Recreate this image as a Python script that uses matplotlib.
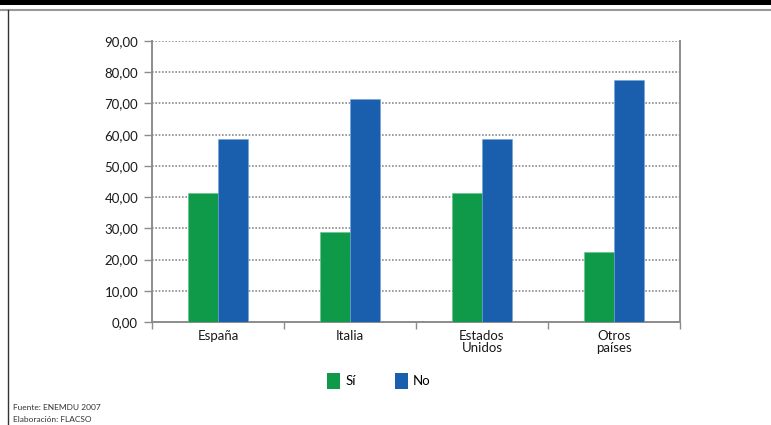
import matplotlib
matplotlib.use('Agg')
import matplotlib.pyplot as plt
from matplotlib.patches import Patch
import numpy as np

plt.rcParams['font.family'] = ['Lato', 'DejaVu Sans']

# ------------ data ------------
paises = ['España', 'Italia', 'Estados\nUnidos', 'Otros\npaíses']
si = [41.4, 28.7, 41.4, 22.4]
no = [58.6, 71.3, 58.6, 77.6]
yticks = np.arange(0, 90.1, 10)
ytick_labels = ['%d,00' % v for v in yticks]

green = '#0f9a4a'
blue = '#1a5fae'
grid_gray = '#8c8c8c'
txt = '#1a1a1a'

# ------------ figure ------------
W, H = 771, 425
fig = plt.figure(figsize=(W / 100, H / 100), dpi=100)
ax = fig.add_axes([152 / W, 1 - 322 / H, (680 - 152) / W, (322 - 41) / H])

x = np.arange(len(paises))
bw = 0.23
ax.bar(x - bw / 2, si, bw, color=green, edgecolor='#5fc48a', linewidth=0.4, zorder=3)
ax.bar(x + bw / 2, no, bw, color=blue, edgecolor='#6fa3dc', linewidth=0.4, zorder=3)

ax.set_xlim(-0.5, len(paises) - 0.5)
ax.set_ylim(0, 90)
ax.set_yticks(yticks)
ax.set_yticklabels(ytick_labels, fontsize=9.5, color=txt)
ax.set_xticks(x)
ax.set_xticklabels(paises, fontsize=9.5, color=txt, linespacing=1.0)
ax.tick_params(axis='x', length=0, pad=6)
ax.tick_params(axis='y', length=6, color=grid_gray, width=1, pad=4)

# category boundary ticks on x axis
ax.set_xticks(np.arange(-0.5, len(paises), 1), minor=True)
ax.tick_params(axis='x', which='minor', length=5, color=grid_gray, width=1)

ax.grid(axis='y', color=grid_gray, linestyle=(0, (1, 1)), linewidth=1.2, zorder=0)
for side in ['left', 'right', 'bottom']:
    ax.spines[side].set_color(grid_gray)
    ax.spines[side].set_linestyle((0, (1, 1)))
    ax.spines[side].set_linewidth(1.4)
ax.spines['top'].set_visible(False)

# legend
fig.legend([Patch(facecolor=green), Patch(facecolor=blue)], ['Sí', 'No'],
           loc='center', bbox_to_anchor=(379 / W, 1 - 381 / H), ncol=2,
           frameon=False, fontsize=9.5, handlelength=0.95, handleheight=1.5,
           handletextpad=0.4, columnspacing=3.0)

# page decoration
fig.add_artist(plt.Rectangle((0, 1 - 5 / H), 1, 5 / H, transform=fig.transFigure,
                             color='black', lw=0))
fig.add_artist(plt.Line2D([0, 1], [1 - 9.5 / H] * 2, transform=fig.transFigure,
                          color='#999999', lw=1.5))
fig.add_artist(plt.Line2D([7.5 / W] * 2, [0, 1 - 10 / H], transform=fig.transFigure,
                          color='#333333', lw=1))

fig.text(13 / W, 1 - 407 / H, 'Fuente: ENEMDU 2007', fontsize=6, color='#333333', va='center')
fig.text(13 / W, 1 - 419 / H, 'Elaboración: FLACSO', fontsize=6, color='#333333', va='center')

plt.savefig('out.png', dpi=100)
